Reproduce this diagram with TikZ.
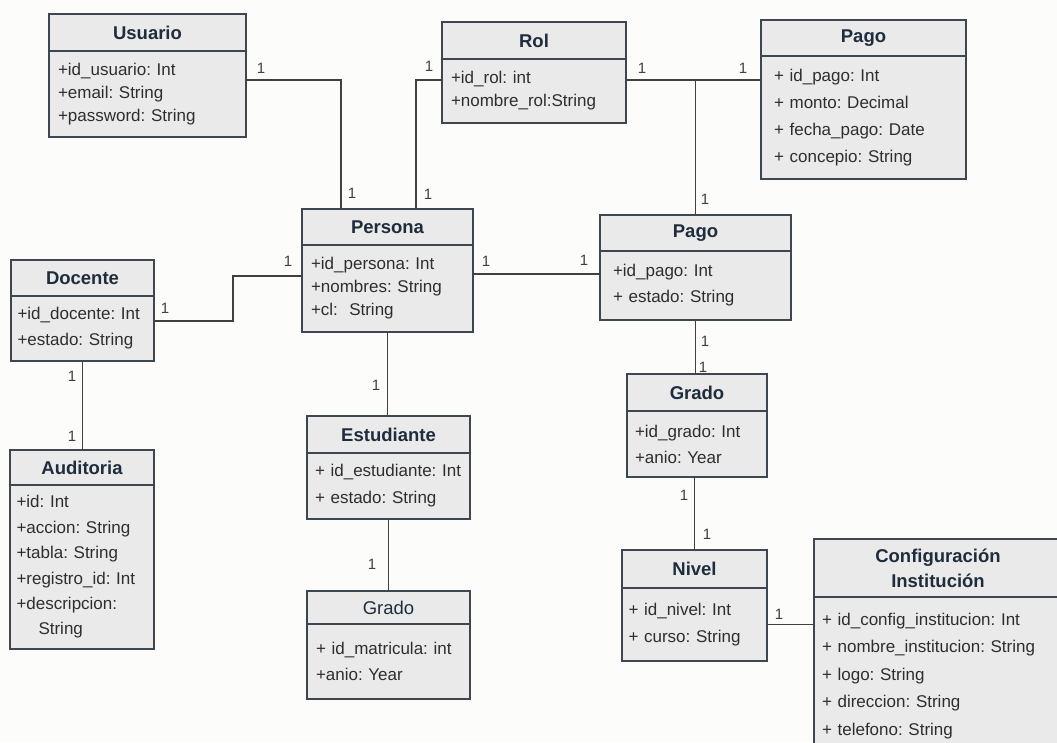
\documentclass[tikz,border=0pt]{standalone}
\usepackage{fontspec}
\setmainfont{Liberation Sans}
\usepackage{tikz}
\usetikzlibrary{positioning}
\usetikzlibrary{calc}
\definecolor{boxfill}{HTML}{EAEAEA}
\definecolor{boxline}{HTML}{3E4650}
\definecolor{titlecol}{HTML}{1F2C3C}
\definecolor{textcol}{HTML}{2E2E2E}
\definecolor{linkcol}{HTML}{404040}
\definecolor{paper}{HTML}{FCFCFA}
\frenchspacing
\tikzset{x=1pt, y=-1pt,
classhead/.style={ % Title part of a class
draw=boxline, fill=boxfill, line width=1.3pt,
outer sep=0pt, inner sep=0pt,
text=titlecol, font=\fontsize{18.5}{22}\selectfont\bfseries,
align=center},
classbody/.style={ % Attribute part, #1 = line spacing
draw=boxline, fill=boxfill, line width=1.3pt,
outer sep=0pt, inner ysep=0pt, inner xsep=9pt,
text=textcol, font=\fontsize{17}{#1}\selectfont,
align=left, anchor=north},
classbody/.default=25,
link/.style={ % Associations
draw=linkcol, line width=1.3pt},
mult/.style={ % Multiplicity labels
text=linkcol, font=\fontsize{15}{15}\selectfont, inner sep=0pt}}

\begin{document}
\begin{tikzpicture}
\clip (0,0) rectangle (1057,742);
\fill[paper] (0,0) rectangle (1057,742);

% classes
\node[classhead, minimum width=197pt, minimum height=37pt] (usuarioT) at (147.5,32.5) {Usuario};
\node[classbody=23, text width=179pt, minimum height=86pt] (usuario) at (usuarioT.south) {+id\_usuario: Int\\+email: String\\+password: String};

\node[classhead, minimum width=184pt, minimum height=37pt] (rolT) at (534,40.5) {Rol};
\node[classbody=23, text width=166pt, minimum height=64pt] (rol) at (rolT.south) {+id\_rol: int\\+nombre\_rol:String};

\node[classhead, minimum width=205pt, minimum height=36pt] (pagoT) at (863.5,38) {Pago};
\node[classbody=27, inner xsep=13pt, text width=179pt, minimum height=123pt] (pago) at (pagoT.south) {+ id\_pago: Int\\+ monto: Decimal\\+ fecha\_pago: Date\\+ concepio: String};

\node[classhead, minimum width=171pt, minimum height=36pt] (personaT) at (387.5,227) {Persona};
\node[classbody=23, text width=153pt, minimum height=87pt] (persona) at (personaT.south) {+id\_persona: Int\\+nombres: String\\+cl:\ \ String};

\node[classhead, minimum width=191pt, minimum height=36pt] (pagomT) at (695.5,233) {Pago};
\node[classbody=26, inner xsep=13pt, text width=165pt, minimum height=69pt] (pagom) at (pagomT.south) {+id\_pago: Int\\+ estado: String};

\node[classhead, minimum width=140pt, minimum height=37pt] (gradoT) at (697,392.5) {Grado};
\node[classbody=26, inner xsep=8pt, text width=124pt, minimum height=66pt] (grado) at (gradoT.south) {+id\_grado: Int\\+anio: Year};

\node[classhead, minimum width=143pt, minimum height=36pt] (docenteT) at (82.5,278) {Docente};
\node[classbody=26, inner xsep=6.5pt, text width=130pt, minimum height=65pt] (docente) at (docenteT.south) {+id\_docente: Int\\+estado: String};

\node[classhead, minimum width=144pt, minimum height=35pt] (auditoriaT) at (82,467.5) {Auditoria};
\node[classbody=25.4, inner xsep=6.5pt, text width=131pt, minimum height=164pt] (auditoria) at (auditoriaT.south) {+id: Int\\+accion: String\\+tabla: String\\+registro\_id: Int\\+descripcion:\\\hspace*{22pt}String};

\node[classhead, minimum width=163pt, minimum height=37pt] (estudianteT) at (388.5,434.5) {Estudiante};
\node[classbody=27, inner xsep=8pt, text width=147pt, minimum height=66pt] (estudiante) at (estudianteT.south) {+ id\_estudiante: Int\\+ estado: String};

\node[classhead, minimum width=163pt, minimum height=33pt, font=\fontsize{18.5}{22}\selectfont] (gradobT) at (388.5,607.5) {Grado};
\node[classbody=26, text width=145pt, minimum height=75pt] (gradob) at (gradobT.south) {+ id\_matricula: int\\+anio: Year};

\node[classhead, minimum width=145pt, minimum height=38pt] (nivelT) at (694.5,569) {Nivel};
\node[classbody=27, inner xsep=6.5pt, text width=132pt, minimum height=73pt] (nivel) at (nivelT.south) {+ id\_nivel: Int\\+ curso: String};

\node[classhead, minimum width=248pt, minimum height=58pt, font=\fontsize{18.5}{25}\selectfont\bfseries] (configT) at (938,568) {Configuración\\Institución};
\node[classbody=27.5, inner xsep=8pt, text width=232pt, minimum height=158pt] (config) at (configT.south) {+ id\_config\_institucion: Int\\+ nombre\_institucion: String\\+ logo: String\\+ direccion: String\\+ telefono: String};

% associations
\coordinate (usuR) at ([yshift=14pt]usuario.east);
\draw[link] (usuR) -| ([xshift=-46.5pt]personaT.north);
\draw[link] ([yshift=11pt]rol.west) -| ([xshift=28.5pt]personaT.north);
\coordinate (rolR) at ([yshift=11pt]rol.east);
\draw[link] (rolR) -- (rolR -| pago.west);
\draw[link] (pagomT.north) -- (pagomT.north |- rolR);
\coordinate (perR) at ([yshift=14.5pt]persona.east);
\draw[link] (perR) -- (perR -| pagom.west);
\coordinate (perL) at ([yshift=12.5pt]persona.west);
\coordinate (docR) at ([yshift=7.5pt]docente.east);
\draw[link] (perL) -| ($(perL)!0.466!(docR)$) |- (docR);
\draw[link] (docente.south) -- (docente.south |- auditoriaT.north);
\draw[link] (persona.south) -- (persona.south |- estudianteT.north);
\draw[link] (estudiante.south) -- (gradobT.north);
\draw[link] (pagom.south) -- (pagom.south |- gradoT.north);
\draw[link] (nivelT.north |- grado.south) -- (nivelT.north);
\draw[link] (nivel.east) -- (nivel.east -| config.west);

% multiplicities
\node[mult] (m1) at (261,68) {1};
\node[mult] (m2) at (352,193) {1};
\node[mult] (m3) at (429,66) {1};
\node[mult] (m4) at (428,194) {1};
\node[mult] (m5) at (642,68) {1};
\node[mult] (m6) at (743,68) {1};
\node[mult] (m7) at (705,199) {1};
\node[mult] (m8) at (288,261) {1};
\node[mult] (m9) at (165,308) {1};
\node[mult] (m10) at (72,376) {1};
\node[mult] (m11) at (72,436) {1};
\node[mult] (m12) at (486,261) {1};
\node[mult] (m13) at (584,260) {1};
\node[mult] (m14) at (376,385) {1};
\node[mult] (m15) at (705,341) {1};
\node[mult] (m16) at (703,367) {1};
\node[mult] (m17) at (372,564) {1};
\node[mult] (m18) at (684,495) {1};
\node[mult] (m19) at (707,534) {1};
\node[mult] (m20) at (779,614) {1};
\end{tikzpicture}
\end{document}
